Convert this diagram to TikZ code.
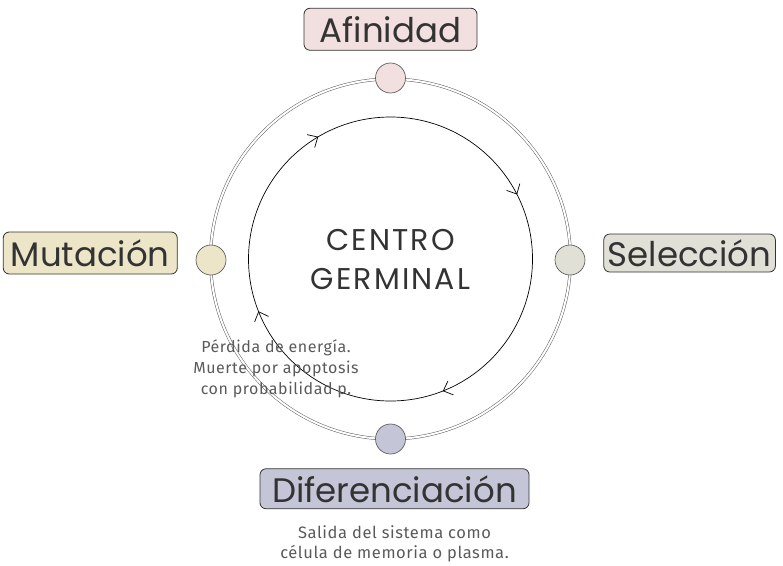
\documentclass[tikz,border=0pt]{standalone}
\usepackage{fontspec}
\usepackage{xcolor}
\usepackage{tikz}
\usetikzlibrary{positioning, arrows.meta, decorations.markings}

\setmainfont{Fira Sans}
\newfontfamily\titlefont{Poppins}
\newfontfamily\widefont[LetterSpace=7]{Poppins}
\newfontfamily\notefont[LetterSpace=3.5]{Fira Sans}

\definecolor{inktext}{HTML}{333333}
\definecolor{notetext}{HTML}{5A5A5A}
\definecolor{ringgray}{HTML}{5E5E5E}
\definecolor{pinkfill}{HTML}{F2E0E1}
\definecolor{beigefill}{HTML}{ECE5C8}
\definecolor{greyfill}{HTML}{E0E0D7}
\definecolor{lilacfill}{HTML}{C4C6D8}

\begin{document}
\begin{tikzpicture}[
    x=1pt, y=-1pt,
    node distance=12pt,
    stage/.style={rectangle, rounded corners=6pt, draw=inktext, line width=0.8pt, text=inktext,
        font=\titlefont\fontsize{34}{34}\selectfont, inner xsep=4pt, inner ysep=0pt,
        minimum height=42pt},
    dot/.style={circle, draw=ringgray, line width=0.7pt, minimum size=30pt, inner sep=0pt},
    note/.style={align=center, text=notetext, font=\notefont\fontsize{16}{21}\selectfont},
    ring/.style={draw=ringgray, line width=0.5pt, double=white, double distance=2pt},
    cycle/.style={draw=black, line width=0.7pt,
        postaction={decorate, decoration={markings,
            mark=at position 0.19 with {\arrow{Straight Barb[length=8pt, width=15pt]}},
            mark=at position 0.44 with {\arrow{Straight Barb[length=8pt, width=15pt]}},
            mark=at position 0.665 with {\arrow{Straight Barb[length=8pt, width=15pt]}},
            mark=at position 0.925 with {\arrow{Straight Barb[length=8pt, width=15pt]}}}}}
]
\useasboundingbox (0,0) rectangle (783,565);

% Rings
\coordinate (mid) at (390.5,259);
\draw[ring] (mid) circle[radius=180];
\draw[cycle] (mid) circle[radius=142];

% Centre
\node[text=inktext, align=center, font=\widefont\fontsize{30}{39}\selectfont] (centro) at (mid) {CENTRO\\GERMINAL};

% Dots on the ring
\node[dot, fill=pinkfill] (dtop) at (390.5,78) {};
\node[dot, fill=beigefill] (dleft) at (211,260) {};
\node[dot, fill=greyfill] (dright) at (570,260) {};
\node[dot, fill=lilacfill] (dbot) at (390.5,439) {};

% Stages
\node[stage, fill=pinkfill, above=12pt of dtop, minimum width=173pt] (afinidad) {Afinidad};
\node[stage, fill=beigefill, left=18pt of dleft, yshift=7pt, minimum width=174pt] (mutacion) {Mutación};
\node[stage, fill=greyfill, right=18pt of dright, yshift=7pt, minimum height=38pt, minimum width=171pt] (seleccion) {Selección};
\node[stage, fill=lilacfill, below=14pt of dbot, xshift=4pt, minimum height=40pt, minimum width=269pt] (diferenciacion) {Diferenciación};

% Notes
\node[note] (perdida) at (276,369) {Pérdida de energía.\\Muerte por apoptosis\\con probabilidad p.};
\node[note, font=\notefont\fontsize{16.5}{20}\selectfont, below=13pt of diferenciacion] (salida) {Salida del sistema como\\célula de memoria o plasma.};

\end{tikzpicture}
\end{document}
